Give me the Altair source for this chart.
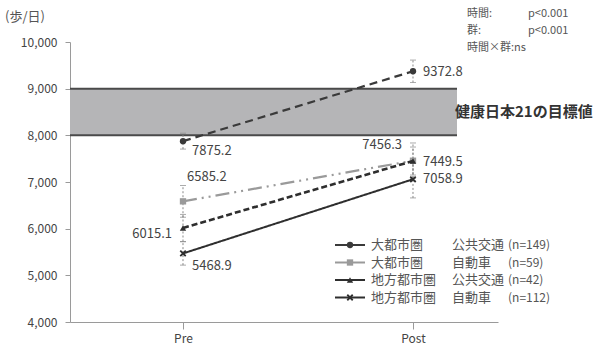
import altair as alt
import pandas as pd

# ---- data -------------------------------------------------------------
groups = ["大都市圏 公共交通", "大都市圏 自動車", "地方都市圏 公共交通", "地方都市圏 自動車"]
legend_region = ["大都市圏", "大都市圏", "地方都市圏", "地方都市圏"]
legend_mode = ["公共交通", "自動車", "公共交通", "自動車"]
legend_n = ["(n=149)", "(n=59)", "(n=42)", "(n=112)"]
pre_means = [7875.2, 6585.2, 6015.1, 5468.9]
post_means = [9372.8, 7456.3, 7449.5, 7058.9]
pre_err = [170, 340, 290, 250]
post_err = [240, 380, 300, 400]
target_low, target_high = 8000, 9000
target_label = "健康日本21の目標値"
stats_names = ["時間:", "群:"]
stats_values = ["p<0.001", "p<0.001"]
stats_interaction = "時間×群:ns"
y_unit = "(歩/日)"

rows = []
for i, g in enumerate(groups):
    rows.append({"group": g, "t": 0, "mean": pre_means[i], "err": pre_err[i]})
    rows.append({"group": g, "t": 1, "mean": post_means[i], "err": post_err[i]})
df = pd.DataFrame(rows)

FONT = "Noto Sans CJK JP"
W, H = 428, 280

# ---- styles -----------------------------------------------------------
colors = ["#3a3a3a", "#9a9a9a", "#2e2e2e", "#2e2e2e"]
dashes = [[8, 5], [14, 5, 2, 5, 2, 5], [6, 3], [1, 0]]
widths = [2.2, 2.2, 2.6, 2.0]
shapes = ["circle", "square", "triangle-up", "M-1,-1L1,1M1,-1L-1,1"]

x_scale = alt.Scale(domain=[-0.4913, 1.3696], nice=False, zero=False)
y_scale = alt.Scale(domain=[4000, 10000], nice=False, zero=False)

X = alt.X("t:Q", scale=x_scale,
          axis=alt.Axis(values=[0, 1], labelExpr="datum.value == 0 ? 'Pre' : 'Post'",
                        title=None, grid=False, domainColor="#9a9a9a", tickColor="#9a9a9a",
                        tickSize=7, labelFontSize=12, labelColor="#444", labelFont=FONT,
                        labelPadding=4))
Y = alt.Y("mean:Q", scale=y_scale,
          axis=alt.Axis(values=[4000, 5000, 6000, 7000, 8000, 9000, 10000], format=",d",
                        title=None, grid=False, domainColor="#9a9a9a", tickColor="#9a9a9a",
                        tickSize=5, labelFontSize=12, labelColor="#444", labelFont=FONT,
                        labelPadding=8))

base = alt.Chart(df)

# target band
band_df = pd.DataFrame({"lo": [target_low], "hi": [target_high]})
band = alt.Chart(band_df).mark_rect(color="#b5b5b7").encode(
    x=alt.value(0), x2=alt.value(387),
    y=alt.Y("lo:Q", scale=y_scale), y2="hi:Q")
band_lines = alt.Chart(pd.DataFrame({"v": [target_low, target_high]})).mark_rule(
    color="#4a4a4a", strokeWidth=2).encode(
    x=alt.value(0), x2=alt.value(387), y=alt.Y("v:Q", scale=y_scale))
band_text = alt.Chart(pd.DataFrame({"v": [(target_low + target_high) / 2]})).mark_text(
    text=target_label, align="left", baseline="middle", font=FONT, fontSize=15,
    fontWeight="bold", color="#333").encode(
    x=alt.value(385), y=alt.Y("v:Q", scale=y_scale))

layers = [band, band_lines, band_text]

# error bars
err = base.transform_calculate(lo="datum.mean - datum.err", hi="datum.mean + datum.err")
layers.append(err.mark_rule(color="#888", strokeWidth=1, strokeDash=[2, 2]).encode(
    x=X, y=alt.Y("lo:Q", scale=y_scale), y2="hi:Q"))
for f in ["lo", "hi"]:
    layers.append(err.mark_tick(color="#888", thickness=1, size=6, orient="horizontal").encode(
        x=alt.X("t:Q", scale=x_scale), y=alt.Y(f + ":Q", scale=y_scale)))

# series lines and markers
for i, g in enumerate(groups):
    sub = base.transform_filter(alt.datum.group == g)
    layers.append(sub.mark_line(color=colors[i], strokeWidth=widths[i],
                                strokeDash=dashes[i]).encode(x=X, y=Y))
    if i < 3:
        layers.append(sub.mark_point(shape=shapes[i], filled=True, size=40, color=colors[i],
                                     opacity=1).encode(x=alt.X("t:Q", scale=x_scale),
                                                       y=alt.Y("mean:Q", scale=y_scale)))
    else:
        layers.append(sub.mark_point(shape=shapes[i], filled=False, size=30, color=colors[i],
                                     strokeWidth=1.8, opacity=1).encode(
            x=alt.X("t:Q", scale=x_scale), y=alt.Y("mean:Q", scale=y_scale)))

# value labels: (group index, time) -> align, dx, dy
label_pos = {
    (0, 0): ("left", 9, 10), (1, 0): ("left", 4, -24), (2, 0): ("right", -11, 6),
    (3, 0): ("left", 9, 13),
    (0, 1): ("left", 10, 1), (1, 1): ("right", -11, -16), (2, 1): ("left", 10, 1),
    (3, 1): ("left", 10, 0),
}
for (gi, t), (al, dx, dy) in label_pos.items():
    layers.append(base.transform_filter(
        (alt.datum.group == groups[gi]) & (alt.datum.t == t)).mark_text(
        align=al, baseline="middle", dx=dx, dy=dy, font=FONT, fontSize=13, color="#444").encode(
        x=alt.X("t:Q", scale=x_scale), y=alt.Y("mean:Q", scale=y_scale),
        text=alt.Text("mean:Q", format=".1f")))

# legend drawn as a block of rows
one = pd.DataFrame({"k": [0]})
for i in range(len(groups)):
    yy = 203 + i * 17.5
    c = alt.Chart(one)
    layers.append(c.mark_rule(color=colors[i], strokeWidth=2).encode(
        x=alt.value(265), x2=alt.value(295), y=alt.value(yy)))
    if i < 3:
        layers.append(c.mark_point(shape=shapes[i], filled=True, size=40, color=colors[i],
                                   opacity=1).encode(x=alt.value(280), y=alt.value(yy)))
    else:
        layers.append(c.mark_point(shape=shapes[i], filled=False, size=30, color=colors[i],
                                   strokeWidth=1.8, opacity=1).encode(x=alt.value(280), y=alt.value(yy)))
    for xx, txt, fs in [(301, legend_region[i], 13), (382, legend_mode[i], 13),
                        (438, legend_n[i], 12)]:
        layers.append(c.mark_text(text=txt, align="left", baseline="middle", font=FONT,
                                  fontSize=fs, color="#555").encode(
            x=alt.value(xx), y=alt.value(yy)))

# statistics note
for i in range(2):
    c = alt.Chart(one)
    layers.append(c.mark_text(text=stats_names[i], align="left", baseline="middle", font=FONT,
                              fontSize=11, color="#555").encode(
        x=alt.value(397), y=alt.value(-28 + i * 17)))
    layers.append(c.mark_text(text=stats_values[i], align="left", baseline="middle", font=FONT,
                              fontSize=11, color="#555").encode(
        x=alt.value(458), y=alt.value(-28 + i * 17)))
layers.append(alt.Chart(one).mark_text(text=stats_interaction, align="left", baseline="middle",
                                       font=FONT, fontSize=11, color="#555").encode(
    x=alt.value(397), y=alt.value(6)))

# y unit
layers.append(alt.Chart(one).mark_text(text=y_unit, align="left", baseline="middle", font=FONT,
                                       fontSize=13, color="#555").encode(
    x=alt.value(-65), y=alt.value(-25)))

chart = alt.layer(*layers).properties(
    width=W, height=H,
    autosize=alt.AutoSizeParams(type="none"),
    padding={"left": 70, "top": 42, "right": 97, "bottom": 27},
    background="white",
).configure_view(stroke=None)

chart.save("out.html", embed_options={"renderer": "svg", "actions": False})
